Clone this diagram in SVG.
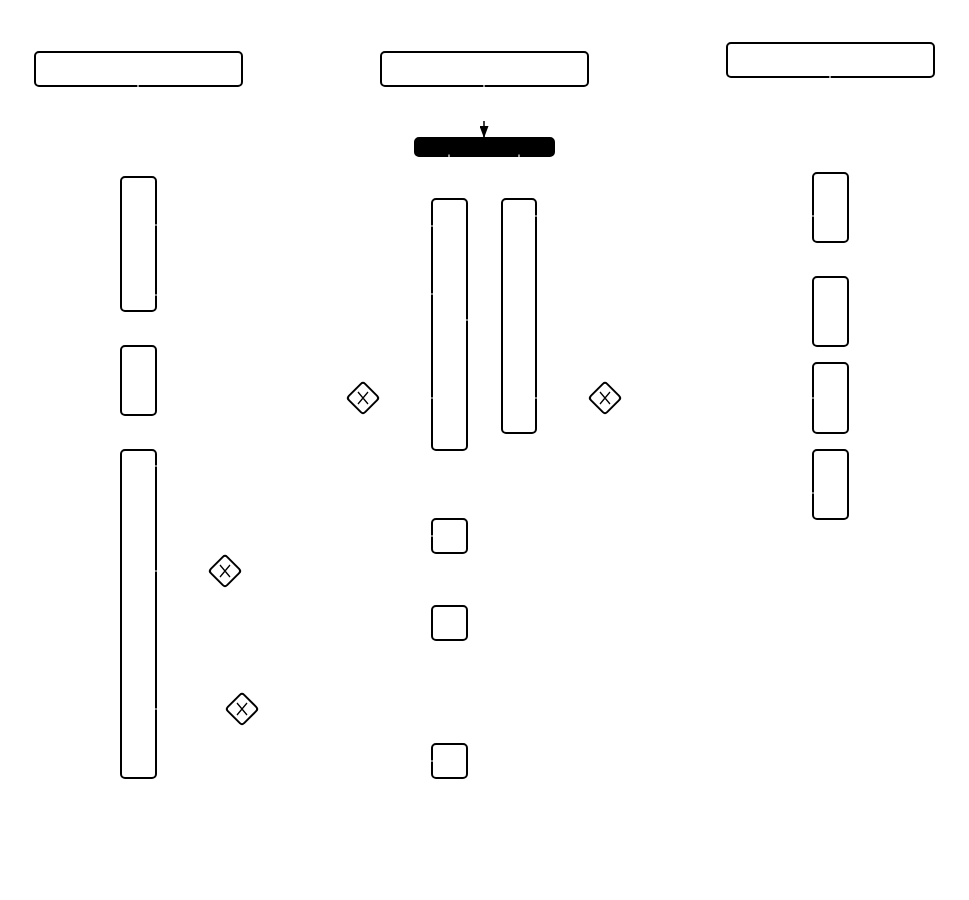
<svg xmlns="http://www.w3.org/2000/svg" width="969" height="900" viewBox="0 0 969 900">
<style>
.n{fill:#fff;stroke:#000;stroke-width:2}
.bar{fill:#000;stroke:#000;stroke-width:2}
.g{fill:#fff;stroke:#000;stroke-width:2}
.x{stroke:#000;stroke-width:1.3;fill:none}
.gap{stroke:#fff;stroke-width:1.2;fill:none}
</style>
<defs>
<marker id="ah" viewBox="0 0 10 10" refX="10" refY="5" markerWidth="12" markerHeight="9" preserveAspectRatio="none" markerUnits="userSpaceOnUse" orient="auto"><path d="M0,0 L10,5 L0,10 Z" fill="#000"/></marker>
<g id="gw"><rect x="-11.5" y="-11.5" width="23" height="23" rx="3" class="g" transform="rotate(45)"/><path class="x" d="M-5,-6 L5,6 M5,-6 L-5,6"/></g>
</defs>
<rect width="969" height="900" fill="#fff"/>
<g id="pool1"><rect class="n" x="35" y="52" width="207" height="34" rx="4"/></g>
<g id="pool2"><rect class="n" x="381" y="52" width="207" height="34" rx="4"/></g>
<g id="pool3"><rect class="n" x="727" y="43" width="207" height="34" rx="4"/></g>
<g id="fork"><rect class="bar" x="415" y="138" width="139" height="18" rx="4"/></g>
<g id="l1"><rect class="n" x="121" y="177" width="35" height="134" rx="4"/></g>
<g id="l2"><rect class="n" x="121" y="346" width="35" height="69" rx="4"/></g>
<g id="l3"><rect class="n" x="121" y="450" width="35" height="328" rx="4"/></g>
<g id="m1"><rect class="n" x="432" y="199" width="35" height="251" rx="4"/></g>
<g id="m2"><rect class="n" x="502" y="199" width="34" height="234" rx="4"/></g>
<g id="m3"><rect class="n" x="432" y="519" width="35" height="34" rx="4"/></g>
<g id="m4"><rect class="n" x="432" y="606" width="35" height="34" rx="4"/></g>
<g id="m5"><rect class="n" x="432" y="744" width="35" height="34" rx="4"/></g>
<g id="r1"><rect class="n" x="813" y="173" width="35" height="69" rx="4"/></g>
<g id="r2"><rect class="n" x="813" y="277" width="35" height="69" rx="4"/></g>
<g id="r3"><rect class="n" x="813" y="363" width="35" height="70" rx="4"/></g>
<g id="r4"><rect class="n" x="813" y="450" width="35" height="69" rx="4"/></g>
<g id="gw1"><use href="#gw" x="363" y="398"/></g>
<g id="gw2"><use href="#gw" x="605" y="398"/></g>
<g id="gw3"><use href="#gw" x="225" y="571"/></g>
<g id="gw4"><use href="#gw" x="242" y="709"/></g>
<g id="connectors">
<line x1="484" y1="121" x2="484" y2="138" stroke="#000" stroke-width="1.5" marker-end="url(#ah)"/>
<path class="gap" d="M138,84.5v3 M484,84.5v3 M830,75.5v3 M154.5,225h3 M154.5,295h3 M430.5,226h3 M430.5,294h3 M430.5,398h3 M465.5,320h3 M534.5,216h3 M534.5,398h3 M811.5,216h3 M811.5,398h3 M811.5,493h3 M154.5,466h3 M154.5,571h3 M154.5,709h3 M430.5,536h3 M430.5,761h3 M449,154.5v3 M519,154.5v3"/>
</g>
</svg>
